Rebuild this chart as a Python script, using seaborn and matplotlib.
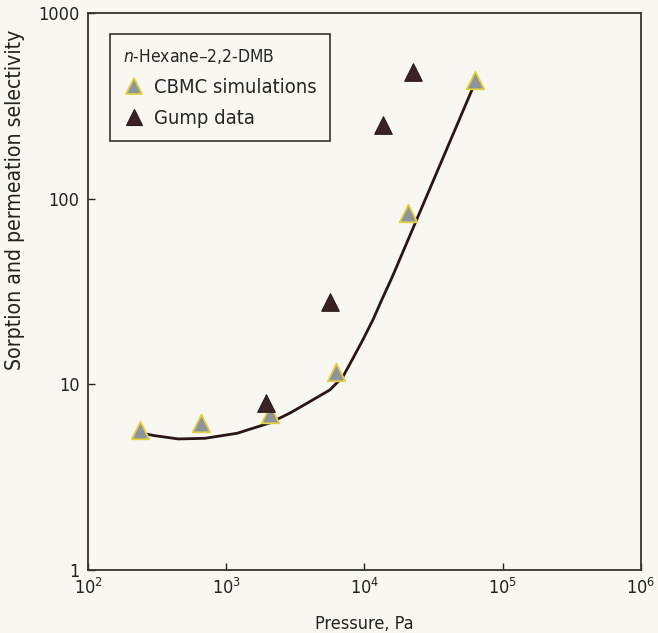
import pandas as pd
import seaborn as sns
import matplotlib.pyplot as plt
from matplotlib.lines import Line2D
from matplotlib.ticker import NullLocator

# CBMC simulations (pressure in Pa, selectivity)
cbmc_p = [238, 656, 2070, 6220, 20650, 63000]
cbmc_s = [5.68, 6.2, 6.93, 11.7, 83.8, 436]

# Gump data
gump_p = [1940, 5630, 13600, 22450]
gump_s = [7.94, 27.8, 249, 481]

# fitted curve
curve_p = [230, 300, 450, 700, 1200, 2070, 2890, 4000, 5620, 6980, 8300, 9750,
           11500, 13600, 15800, 63000]
curve_s = [5.5, 5.3, 5.08, 5.12, 5.45, 6.2, 7.0, 8.05, 9.33, 10.97, 13.9, 17.4,
           22.2, 29.4, 37.5, 420]

sns.set_style("ticks")
plt.rcParams["font.family"] = ["DejaVu Sans"]
plt.rcParams["font.stretch"] = "condensed"
plt.rcParams["mathtext.fontset"] = "dejavusans"

bg = "#f8f7f2"
fig = plt.figure(figsize=(6.58, 6.33), dpi=100, facecolor=bg)
ax = fig.add_axes([0.1337, 0.0995, 0.8403, 0.88])
ax.set_facecolor(bg)

curve = pd.DataFrame({"p": curve_p, "s": curve_s})
sns.lineplot(data=curve, x="p", y="s", ax=ax, color="#2a1414", linewidth=2.0,
             sort=False, zorder=2)

cbmc = pd.DataFrame({"p": cbmc_p, "s": cbmc_s})
gump = pd.DataFrame({"p": gump_p, "s": gump_s})
sns.scatterplot(data=cbmc, x="p", y="s", ax=ax, marker="^", s=160,
                color="#8e949c", edgecolor="#e2d041", linewidth=1.3, zorder=3)
sns.scatterplot(data=gump, x="p", y="s", ax=ax, marker="^", s=160,
                color="#3b2323", edgecolor="#2a1a1a", linewidth=0.8, zorder=3)

ax.set_xscale("log")
ax.set_yscale("log")
ax.set_xlim(1e2, 1e6)
ax.set_ylim(1, 1000)
ax.xaxis.set_minor_locator(NullLocator())
ax.yaxis.set_minor_locator(NullLocator())
ax.set_yticks([1, 10, 100, 1000])
ax.set_yticklabels(["1", "10", "100", "1000"])
ax.set_xticks([1e2, 1e3, 1e4, 1e5, 1e6])
ax.set_xticklabels([r"$10^{2}$", r"$10^{3}$", r"$10^{4}$", r"$10^{5}$", r"$10^{6}$"])
ax.tick_params(direction="in", length=5, width=1, labelsize=13, colors="#222222", pad=6)

for sp in ax.spines.values():
    sp.set_color("#333333")
    sp.set_linewidth(1.3)

ax.set_xlabel("Pressure, Pa", fontsize=13, labelpad=12, color="#222222")
ax.set_ylabel("Sorption and permeation selectivity", fontsize=15.2, color="#222222")
ax.yaxis.set_label_coords(-0.114, 0.664)

handles = [
    Line2D([], [], linestyle="none", marker="^", markersize=11,
           markerfacecolor="#8e949c", markeredgecolor="#e2d041", markeredgewidth=1.3),
    Line2D([], [], linestyle="none", marker="^", markersize=11,
           markerfacecolor="#3b2323", markeredgecolor="#2a1a1a", markeredgewidth=0.8),
]
leg = ax.legend(handles, ["CBMC simulations", "Gump data"],
                title=r"$\it{n}$-Hexane–2,2-DMB", title_fontsize=12.5, fontsize=14.5,
                loc="upper left", bbox_to_anchor=(0.04, 0.962), alignment="left",
                frameon=True, fancybox=False, edgecolor="#333333", facecolor=bg,
                framealpha=1, borderpad=0.65, handletextpad=0.45, labelspacing=0.6,
                handlelength=1.1, borderaxespad=0)
leg.get_frame().set_linewidth(1.2)

fig.savefig("out.png", dpi=100, facecolor=bg)
